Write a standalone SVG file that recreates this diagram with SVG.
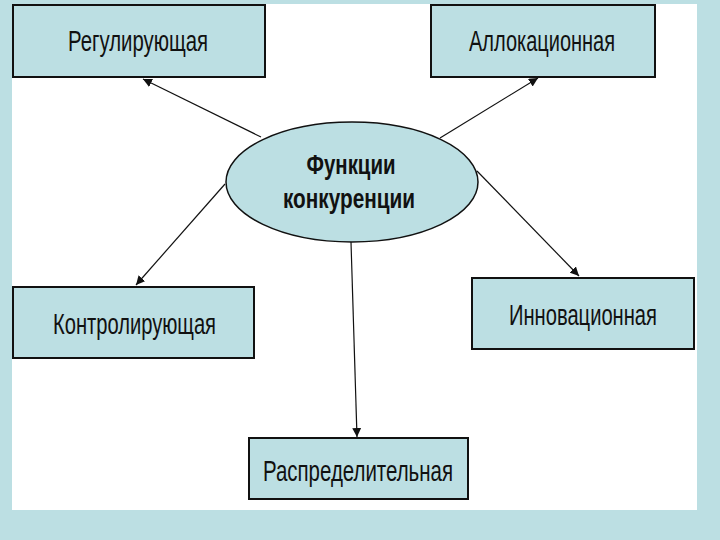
<svg xmlns="http://www.w3.org/2000/svg" width="720" height="540" viewBox="0 0 720 540">
<defs>
<style>
.box{fill:#bcdfe3;stroke:#111;stroke-width:2}
.lbl{font-family:"Liberation Sans",Arial,sans-serif;font-size:30px;fill:#111}
.ttl{font-family:"Liberation Sans",Arial,sans-serif;font-size:27px;font-weight:bold;fill:#111}
.con{stroke:#111;stroke-width:1.2;fill:none;marker-end:url(#ah)}
</style>
<marker id="ah" viewBox="0 0 10 10" refX="10" refY="5" markerWidth="9" markerHeight="9" markerUnits="userSpaceOnUse" orient="auto">
<path d="M0,0 L10,5 L0,10 z" fill="#111"/>
</marker>
</defs>
<rect x="0" y="0" width="720" height="540" fill="#bcdfe3"/>
<rect x="12" y="4" width="685" height="506" fill="#ffffff"/>
<g id="connectors">
<line class="con" x1="261" y1="137" x2="143" y2="79"/>
<line class="con" x1="440" y1="138" x2="538" y2="78"/>
<line class="con" x1="225" y1="184" x2="136" y2="285"/>
<line class="con" x1="477" y1="171" x2="579" y2="276"/>
<line class="con" x1="351" y1="242" x2="357" y2="437"/>
</g>
<g id="center">
<ellipse cx="352" cy="182" rx="126" ry="60" fill="#bcdfe3" stroke="#111" stroke-width="1.5"/>
<text class="ttl" transform="translate(351,174) scale(0.7,1)" x="0" y="0" text-anchor="middle" textLength="127" lengthAdjust="spacingAndGlyphs">Функции</text>
<text class="ttl" transform="translate(349,208) scale(0.7,1)" x="0" y="0" text-anchor="middle" textLength="188.6" lengthAdjust="spacingAndGlyphs">конкуренции</text>
</g>
<g id="regul">
<rect class="box" x="13" y="5" width="252" height="72"/>
<text class="lbl" transform="translate(68,51) scale(0.7,1)" x="0" y="0" textLength="200" lengthAdjust="spacingAndGlyphs">Регулирующая</text>
</g>
<g id="alloc">
<rect class="box" x="431" y="5" width="224" height="72"/>
<text class="lbl" transform="translate(469,51) scale(0.7,1)" x="0" y="0" textLength="208.6" lengthAdjust="spacingAndGlyphs">Аллокационная</text>
</g>
<g id="control">
<rect class="box" x="13" y="287" width="241" height="71"/>
<text class="lbl" transform="translate(53,334) scale(0.7,1)" x="0" y="0" textLength="232.9" lengthAdjust="spacingAndGlyphs">Контролирующая</text>
</g>
<g id="innov">
<rect class="box" x="472" y="278" width="222" height="71"/>
<text class="lbl" transform="translate(509,325) scale(0.7,1)" x="0" y="0" textLength="211.4" lengthAdjust="spacingAndGlyphs">Инновационная</text>
</g>
<g id="distrib">
<rect class="box" x="249" y="438" width="219" height="61"/>
<text class="lbl" transform="translate(263,481) scale(0.7,1)" x="0" y="0" textLength="271.4" lengthAdjust="spacingAndGlyphs">Распределительная</text>
</g>
</svg>
